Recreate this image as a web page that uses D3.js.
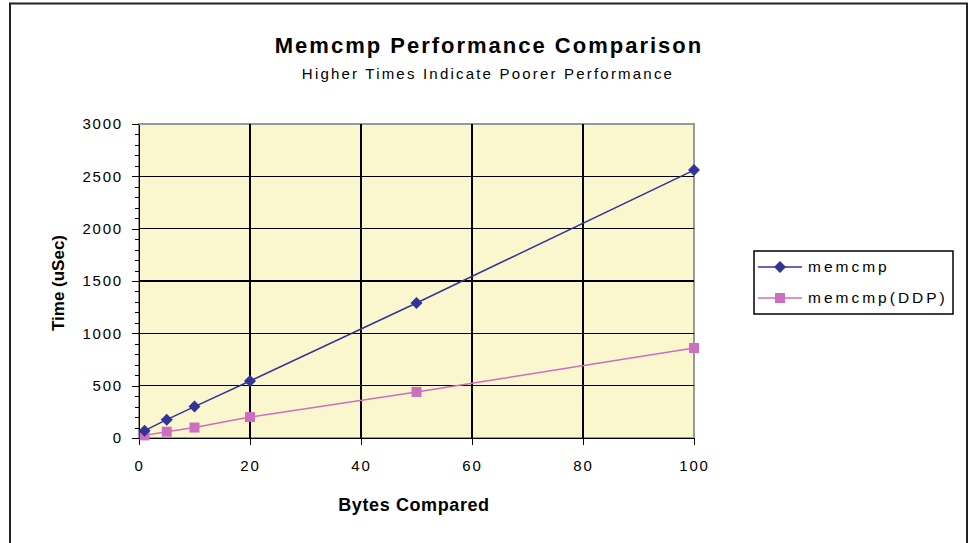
<!DOCTYPE html>
<meta charset="utf-8">
<style>
body { margin: 0; background: #fff; font-family: "Liberation Sans", Arial, sans-serif; }
.grid line { stroke: #000; stroke-width: 1.5; shape-rendering: crispEdges; }
.axis path, .axis line { stroke: #000; shape-rendering: crispEdges; }
.axis text { font-size: 15px; fill: #000; letter-spacing: 1.8px; font-family: "Liberation Sans", Arial, sans-serif; }
</style>
<body>
<script src="https://d3js.org/d3.v7.min.js"></script>
<script>
var bytes = [1, 5, 10, 20, 50, 100];
var memcmp = [70, 175, 300, 545, 1290, 2560];
var memcmpDDP = [25, 60, 100, 200, 440, 860];
var seriesNames = ["memcmp", "memcmp(DDP)"];
var xTicks = [0, 20, 40, 60, 80, 100];
var yTicks = [0, 500, 1000, 1500, 2000, 2500, 3000];

var W = 970, H = 543;
var pLeft = 139, pRight = 694, pTop = 124, pBottom = 438;

var svg = d3.select("body").append("svg").attr("width", W).attr("height", H);

// outer frame
svg.append("rect").attr("x", 10).attr("y", 3.5).attr("width", 957).attr("height", 560)
  .attr("fill", "#fff").attr("stroke", "#222").attr("stroke-width", 2);

var x = d3.scaleLinear().domain([0, 100]).range([pLeft, pRight]);
var y = d3.scaleLinear().domain([0, 3000]).range([pBottom, pTop]);

svg.append("rect").attr("x", pLeft).attr("y", pTop).attr("width", pRight - pLeft).attr("height", pBottom - pTop)
  .attr("fill", "#faf6cd").attr("stroke", "#999").attr("stroke-width", 2);

var grid = svg.append("g").attr("class", "grid");
grid.selectAll(".h").data(yTicks.slice(1, -1)).enter().append("line")
  .attr("x1", pLeft).attr("x2", pRight).attr("y1", d => y(d)).attr("y2", d => y(d));
grid.selectAll(".v").data(xTicks.slice(1, -1)).enter().append("line")
  .attr("y1", pTop).attr("y2", pBottom).attr("x1", d => x(d)).attr("x2", d => x(d));

// y axis with minor ticks
svg.append("g").attr("class", "axis").attr("transform", "translate(" + pLeft + ",0)")
  .call(d3.axisLeft(y).tickValues(d3.range(0, 3001, 100)).tickSize(4).tickFormat(""))
  .call(g => g.select(".domain").remove());
svg.append("g").attr("class", "axis").attr("transform", "translate(" + pLeft + ",0)")
  .call(d3.axisLeft(y).tickValues(yTicks).tickSize(7).tickPadding(9).tickSizeOuter(0).tickFormat(d3.format("d")));

svg.append("g").attr("class", "axis").attr("transform", "translate(0," + pBottom + ")")
  .call(d3.axisBottom(x).tickValues(xTicks).tickSize(7).tickPadding(15).tickSizeOuter(0));

var line = d3.line().x(d => x(d[0])).y(d => y(d[1]));
var s1 = bytes.map((b, i) => [b, memcmp[i]]);
var s2 = bytes.map((b, i) => [b, memcmpDDP[i]]);

var blue = "#333399", pink = "#cc6fbf";

svg.append("path").datum(s2).attr("d", line).attr("fill", "none").attr("stroke", pink).attr("stroke-width", 1.5);
svg.selectAll(".sq").data(s2).enter().append("rect")
  .attr("x", d => x(d[0]) - 5).attr("y", d => y(d[1]) - 5).attr("width", 10).attr("height", 10).attr("fill", pink);

svg.append("path").datum(s1).attr("d", line).attr("fill", "none").attr("stroke", blue).attr("stroke-width", 1.5);
svg.selectAll(".dm").data(s1).enter().append("path")
  .attr("transform", d => "translate(" + x(d[0]) + "," + y(d[1]) + ")")
  .attr("d", "M0,-6L6,0L0,6L-6,0Z").attr("fill", blue);

// titles
svg.append("text").attr("x", 489).attr("y", 53).attr("text-anchor", "middle")
  .style("font-size", "22px").style("font-weight", "bold").style("letter-spacing", "2px")
  .text("Memcmp Performance Comparison");
svg.append("text").attr("x", 488).attr("y", 79).attr("text-anchor", "middle")
  .style("font-size", "15px").style("letter-spacing", "2.2px").text("Higher Times Indicate Poorer Performance");
svg.append("text").attr("x", 414).attr("y", 511).attr("text-anchor", "middle")
  .style("font-size", "18px").style("font-weight", "bold").style("letter-spacing", "0.6px").text("Bytes Compared");
svg.append("text").attr("transform", "translate(64,283) rotate(-90)").attr("text-anchor", "middle")
  .style("font-size", "17px").style("font-weight", "bold").text("Time (uSec)");

// legend
var lg = svg.append("g");
lg.append("rect").attr("x", 754).attr("y", 251).attr("width", 199).attr("height", 63)
  .attr("fill", "#fff").attr("stroke", "#000").attr("stroke-width", 1.5);
var cols = [blue, pink];
seriesNames.forEach(function(n, i) {
  var cy = 267 + i * 31;
  lg.append("line").attr("x1", 758).attr("x2", 802).attr("y1", cy).attr("y2", cy).attr("stroke", cols[i]).attr("stroke-width", 1.5);
  if (i === 0) lg.append("path").attr("transform", "translate(780," + cy + ")").attr("d", "M0,-6L6,0L0,6L-6,0Z").attr("fill", blue);
  else lg.append("rect").attr("x", 775).attr("y", cy - 5).attr("width", 10).attr("height", 10).attr("fill", pink);
  lg.append("text").attr("x", 808).attr("y", cy + 5).style("font-size", "15.5px").style("letter-spacing", "3px").text(n);
});
</script>
